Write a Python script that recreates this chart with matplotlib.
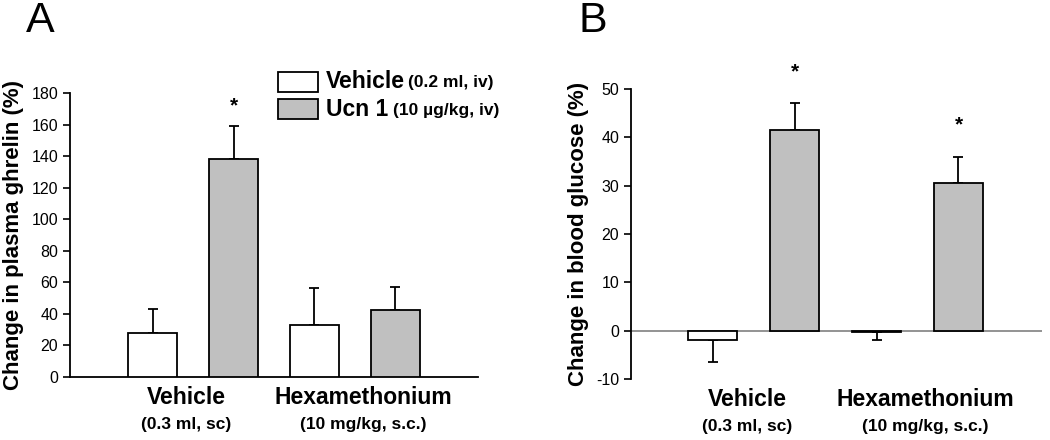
import numpy as np
import matplotlib.pyplot as plt
from matplotlib.patches import Rectangle

plt.rcParams['font.family'] = ['Liberation Sans', 'DejaVu Sans']
plt.rcParams['axes.unicode_minus'] = False

# data
groups = ['Vehicle', 'Hexamethonium']
group_subs = ['(0.3 ml, sc)', '(10 mg/kg, s.c.)']
treat_names = ['Vehicle', 'Ucn 1']
treat_subs = ['(0.2 ml, iv)', '(10 \u00b5g/kg, iv)']

ghrelin_mean = [28, 138, 33, 42.5]
ghrelin_err = [15, 21, 23.5, 14.5]
ghrelin_sig = [False, True, False, False]

glucose_mean = [-2.0, 41.5, -0.3, 30.6]
glucose_err = [4.5, 5.5, 1.7, 5.4]
glucose_sig = [False, True, False, True]

GRAY = '#c0c0c0'
fill_colors = ['white', GRAY, 'white', GRAY]


def draw_bars(ax, means, errs, sig, star_off):
    x = np.arange(len(means))
    ax.bar(x, means, width=0.6, color=fill_colors, edgecolor='black', linewidth=1.3, zorder=3)
    for xi, m, e, s in zip(x, means, errs, sig):
        yerr = [[0], [e]] if m >= 0 else [[e], [0]]
        ax.errorbar(xi, m, yerr=yerr, fmt='none', ecolor='black', elinewidth=1.3,
                    capsize=3.5, capthick=1.3, zorder=2)
        if s:
            ax.text(xi, m + e + star_off, '*', ha='center', va='center',
                    fontsize=15, fontweight='bold')
    for gx, name, sub in zip([0.42, 2.6], groups, group_subs):
        ax.annotate(name, xy=(gx, 0), xycoords=ax.get_xaxis_transform(),
                    xytext=(0, -15), textcoords='offset points', ha='center', va='center',
                    fontsize=16.5, fontweight='bold')
        ax.annotate(sub, xy=(gx, 0), xycoords=ax.get_xaxis_transform(),
                    xytext=(0, -34), textcoords='offset points', ha='center', va='center',
                    fontsize=12.5, fontweight='bold')
    ax.set_xticks([])
    for sp in ['top', 'right']:
        ax.spines[sp].set_visible(False)
    ax.tick_params(axis='y', direction='out', length=5, width=1.2, labelsize=11.5)
    ax.spines['left'].set_linewidth(1.3)


fig = plt.figure(figsize=(10.5, 4.4), dpi=100)

# Panel A
axA = fig.add_axes([70 / 1050, 1 - 377 / 440, 408 / 1050, 284 / 440])
draw_bars(axA, ghrelin_mean, ghrelin_err, ghrelin_sig, 13)
axA.set_xlim(-1.02, 4.02)
axA.set_ylim(0, 180)
axA.set_yticks(np.arange(0, 181, 20))
axA.spines['bottom'].set_linewidth(1.3)
axA.set_ylabel('Change in plasma ghrelin (%)', fontsize=16, fontweight='bold', labelpad=5)

# legend keys and text
for (ky, color), name, sub, sx in zip([(72, 'white'), (99, GRAY)], treat_names, treat_subs, [408, 393]):
    fig.add_artist(Rectangle((278 / 1050, 1 - (ky + 20) / 440), 40 / 1050, 20 / 440,
                             transform=fig.transFigure, facecolor=color,
                             edgecolor='black', linewidth=1.3))
    fig.text(326 / 1050, 1 - (ky + 10) / 440, name, fontsize=16.5, fontweight='bold', va='center')
    fig.text(sx / 1050, 1 - (ky + 11) / 440, sub, fontsize=12.5, fontweight='bold', va='center')

# Panel B
axB = fig.add_axes([631 / 1050, 1 - 379 / 440, 411 / 1050, 290 / 440])
draw_bars(axB, glucose_mean, glucose_err, glucose_sig, 6.5)
axB.set_xlim(-1.0, 4.02)
axB.set_ylim(-10, 50)
axB.set_yticks(np.arange(-10, 51, 10))
axB.spines['bottom'].set_visible(False)
axB.axhline(0, color='#808080', linewidth=1.2, zorder=1)
axB.set_ylabel('Change in blood glucose (%)', fontsize=16, fontweight='bold', labelpad=5)

fig.text(26 / 1050, 1 - 21 / 440, 'A', fontsize=31, va='center', ha='left')
fig.text(579 / 1050, 1 - 21 / 440, 'B', fontsize=31, va='center', ha='left')

fig.savefig('out.png', dpi=100)
